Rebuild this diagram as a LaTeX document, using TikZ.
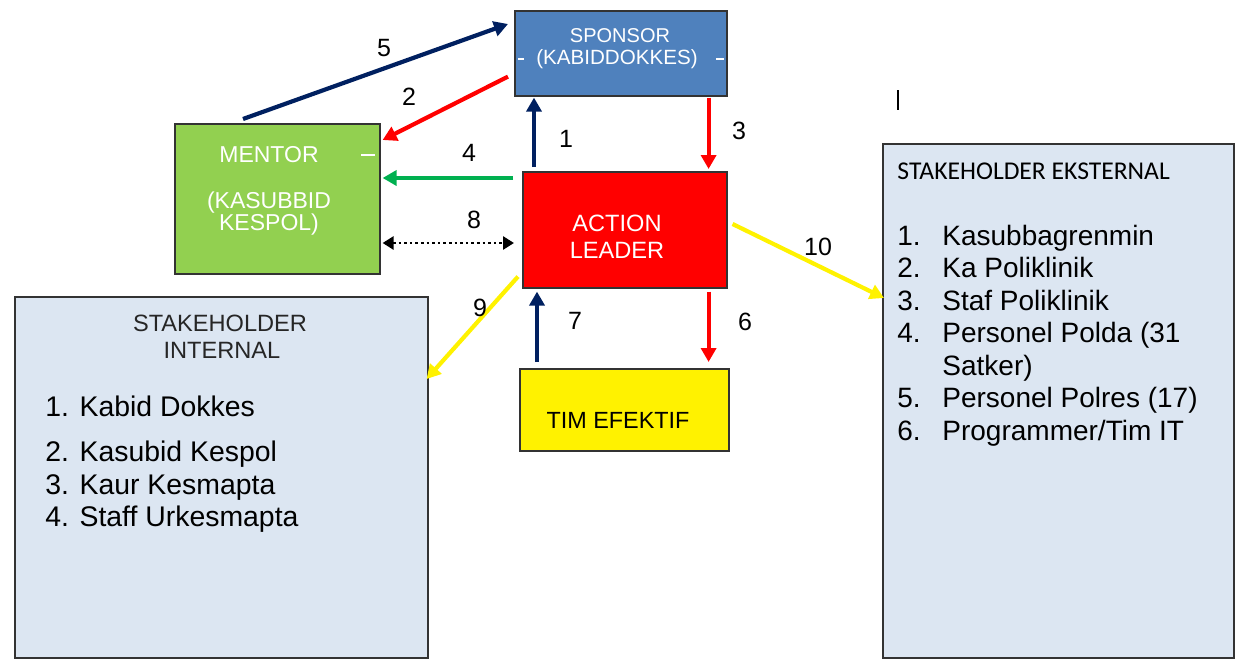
\documentclass[tikz,border=0pt]{standalone}
\usepackage{fontspec}
\setmainfont{Liberation Sans}
\newfontfamily\calib{Carlito}
\usetikzlibrary{arrows.meta,calc}
\definecolor{spblue}{HTML}{4F81BD}
\definecolor{mgreen}{HTML}{92D050}
\definecolor{shfill}{HTML}{DCE6F2}
\definecolor{navy}{HTML}{002060}
\definecolor{agreen}{HTML}{00B050}
\tikzset{
  box/.style={draw=black!80, line width=0.8pt, anchor=north west, inner sep=0pt},
  wtxt/.style={text=white, inner sep=0pt},
  num/.style={font=\fontsize{12.5}{14}\selectfont, inner sep=0pt},
  item/.style={font=\fontsize{14.2}{16}\selectfont, anchor=base west, inner sep=0pt},
  eitem/.style={font=\fontsize{14}{16}\selectfont, anchor=base west, inner sep=0pt},
  conn/.style={line width=2.1pt, -{Triangle[length=7pt,width=7.5pt]}},
}
\begin{document}
\begin{tikzpicture}[x=0.5pt,y=-0.5pt]
\useasboundingbox (0,0) rectangle (1242,664);
% boxes
\node[box, fill=spblue, minimum width=106pt, minimum height=42.5pt] (sp) at (514,10) {};
\node[box, fill=mgreen, minimum width=102.5pt, minimum height=75pt] (me) at (174,123) {};
\node[box, fill=red, minimum width=102pt, minimum height=58pt] (al) at (522,171) {};
\node[box, fill=yellow, minimum width=104.5pt, minimum height=41pt] (tim) at (519,368) {};
\node[box, fill=shfill, minimum width=206.5pt, minimum height=180.5pt] (int) at (14,296) {};
\node[box, fill=shfill, minimum width=175.5pt, minimum height=257pt] (ext) at (882,143) {};
% box texts
\node[wtxt, font=\fontsize{10}{12}\selectfont] (sp1) at (620,36) {SPONSOR};
\node[wtxt, font=\fontsize{10.3}{12}\selectfont] (sp2) at (617,59) {(KABIDDOKKES)};
\draw[white, line width=0.7pt] (518,59) -- (524,59) (716,59) -- (724,59);
\node[wtxt, font=\fontsize{11.5}{13}\selectfont] (me1) at (269,155) {MENTOR};
\draw[white, line width=0.7pt] (361,155) -- (375,155);
\node[wtxt, font=\fontsize{11.5}{13}\selectfont] (me2) at (269,203) {(KASUBBID};
\node[wtxt, font=\fontsize{11.5}{13}\selectfont] (me3) at (269,225) {KESPOL)};
\node[wtxt, font=\fontsize{11.8}{13}\selectfont] (al1) at (617,223) {ACTION};
\node[wtxt, font=\fontsize{11.8}{13}\selectfont] (al2) at (617,250) {LEADER};
\node[inner sep=0pt, font=\fontsize{11.7}{13}\selectfont] (tim1) at (618,420) {TIM EFEKTIF};
% internal
\node[inner sep=0pt, anchor=base, font=\fontsize{11.8}{13}\selectfont, text=black!85] (it1) at (220,331) {STAKEHOLDER};
\node[inner sep=0pt, anchor=base, font=\fontsize{11.8}{13}\selectfont, text=black!85] (it2) at (222,358) {INTERNAL};
\node[item] (i1) at (45,416) {1. Kabid Dokkes};
\node[item] (i2) at (45,461) {2. Kasubid Kespol};
\node[item] (i3) at (45,494) {3. Kaur Kesmapta};
\node[item] (i4) at (45,526) {4. Staff Urkesmapta};
% external
\node[inner sep=0pt, anchor=base west, font=\calib\fontsize{12.8}{15}\selectfont] (et) at (897,179) {STAKEHOLDER EKSTERNAL};
\node[eitem] (e1n) at (897,245) {1.};
\node[eitem] (e1) at (942,245) {Kasubbagrenmin};
\node[eitem] (e2n) at (897,277) {2.};
\node[eitem] (e2) at (942,277) {Ka Poliklinik};
\node[eitem] (e3n) at (897,310) {3.};
\node[eitem] (e3) at (942,310) {Staf Poliklinik};
\node[eitem] (e4n) at (897,342) {4.};
\node[eitem] (e4) at (942,342) {Personel Polda (31};
\node[eitem] (e4b) at (942,375) {Satker)};
\node[eitem] (e5n) at (897,407) {5.};
\node[eitem] (e5) at (942,407) {Personel Polres (17)};
\node[eitem] (e6n) at (897,440) {6.};
\node[eitem] (e6) at (942,440) {Programmer/Tim IT};
% cursor mark
\coordinate (cur1) at (898,90);
\coordinate (cur2) at (898,110);
\draw[line width=0.6pt] (cur1) -- (cur2);
% connectors
\draw[conn, navy] ($(al.north west)+(12,-4)$) -- ($(sp.south west)+(20,1)$);
\draw[conn, red] ($(sp.south east)+(-19,1)$) -- ($(al.north east)+(-19,-2)$);
\draw[conn, navy] ($(me.north west)+(69,-4)$) -- ($(sp.north west)+(-6,14)$);
\draw[conn, red] ($(sp.south west)+(-6,-20)$) -- ($(me.north east)+(2,17)$);
\draw[conn, agreen] ($(al.north west)+(-9,7)$) -- ($(me.north east)+(2,55)$);
\draw[line width=1.3pt, dash pattern=on 1.3pt off 1.5pt, {Triangle[length=5.5pt,width=6.5pt]}-{Triangle[length=5.5pt,width=6.5pt]}] ($(me.north east)+(2,120)$) -- ($(al.north west)+(-8,72)$);
\draw[conn, yellow] ($(al.north east)+(5,53)$) -- ($(ext.north west)+(2,155)$);
\draw[conn, yellow] ($(al.south west)+(-4,-12)$) -- ($(int.north east)+(-2,83)$);
\draw[conn, navy] ($(tim.north west)+(18,-6)$) -- ($(al.south west)+(15,3)$);
\draw[conn, red] ($(al.south east)+(-19,3)$) -- ($(tim.north east)+(-21,-6)$);
% labels
\node[num] (n1) at (566,139) {1};
\node[num] (n2) at (409,97) {2};
\node[num] (n3) at (739,131) {3};
\node[num] (n4) at (469,153) {4};
\node[num] (n5) at (384,48) {5};
\node[num] (n6) at (745,322) {6};
\node[num] (n7) at (575,321) {7};
\node[num] (n8) at (474,220) {8};
\node[num] (n9) at (480,308) {9};
\node[num] (n10) at (818,247) {10};
\end{tikzpicture}
\end{document}
